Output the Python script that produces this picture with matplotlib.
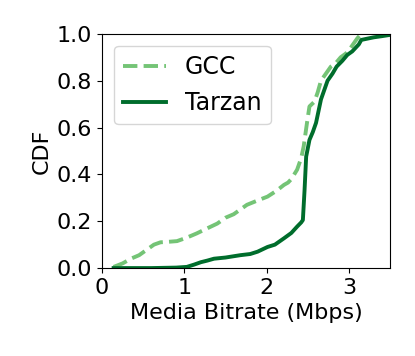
import matplotlib
matplotlib.use('Agg')
import matplotlib.pyplot as plt

# CDF points
gcc_x = [0.14, 0.25, 0.35, 0.45, 0.55, 0.63, 0.71, 0.80, 0.91, 1.03, 1.15, 1.28, 1.40, 1.50,
         1.60, 1.68, 1.76, 1.90, 2.01, 2.12, 2.21, 2.26, 2.30, 2.37, 2.42, 2.45, 2.49, 2.52,
         2.58, 2.62, 2.66, 2.72, 2.78, 2.84, 2.90, 2.96, 3.00, 3.06, 3.10, 3.15]
gcc_y = [0.005, 0.02, 0.04, 0.055, 0.08, 0.10, 0.11, 0.112, 0.115, 0.13, 0.148, 0.17, 0.19, 0.215,
         0.23, 0.25, 0.27, 0.29, 0.305, 0.33, 0.355, 0.365, 0.38, 0.42, 0.47, 0.52, 0.62, 0.69,
         0.71, 0.75, 0.80, 0.83, 0.86, 0.875, 0.90, 0.915, 0.93, 0.96, 0.98, 1.0]

tarzan_x = [0.14, 0.60, 0.90, 1.03, 1.12, 1.20, 1.28, 1.36, 1.50, 1.68, 1.80, 1.89, 1.95,
            2.01, 2.10, 2.21, 2.30, 2.37, 2.42, 2.44, 2.46, 2.48, 2.52, 2.56, 2.60, 2.63,
            2.66, 2.70, 2.74, 2.80, 2.85, 2.92, 2.98, 3.04, 3.08, 3.12, 3.15, 3.30, 3.40, 3.51]
tarzan_y = [0.0, 0.0, 0.002, 0.005, 0.015, 0.025, 0.032, 0.04, 0.045, 0.055, 0.06, 0.07, 0.08,
            0.09, 0.10, 0.127, 0.15, 0.177, 0.195, 0.205, 0.33, 0.476, 0.547, 0.58, 0.62, 0.67,
            0.72, 0.76, 0.80, 0.83, 0.86, 0.885, 0.91, 0.925, 0.94, 0.955, 0.974, 0.985, 0.99, 0.996]

plt.rcParams['font.family'] = ['DejaVu Sans']

fig = plt.figure(figsize=(4.15, 3.56), dpi=100)
ax = fig.add_axes([0.246, 0.247, 0.694, 0.658])

ax.plot(gcc_x, gcc_y, color='#74c476', linestyle='--', linewidth=2.8, label='GCC')
ax.plot(tarzan_x, tarzan_y, color='#006d2c', linestyle='-', linewidth=2.8, label='Tarzan')

ax.set_xlim(0, 3.5)
ax.set_ylim(0, 1.0)
ax.set_xticks([0, 1, 2, 3])
ax.set_yticks([0.0, 0.2, 0.4, 0.6, 0.8, 1.0])
ax.tick_params(labelsize=16)
ax.set_xlabel('Media Bitrate (Mbps)', fontsize=16)
ax.set_ylabel('CDF', fontsize=16)
ax.legend(loc='upper left', fontsize=17, handlelength=1.8)

fig.savefig('out.png', dpi=100)
